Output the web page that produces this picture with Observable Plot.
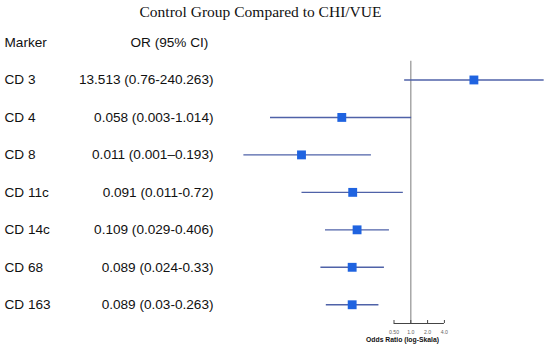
<!DOCTYPE html>
<html>
<head>
<meta charset="utf-8">
<script src="https://cdn.jsdelivr.net/npm/d3@7"></script>
<script src="https://cdn.jsdelivr.net/npm/@observablehq/plot@0.6"></script>
<style>
  html, body { margin: 0; padding: 0; background: #fff; }
  #title { width: 550px; box-sizing: border-box; padding-right: 29px; height: 24px; line-height: 24px;
           text-align: center; font-family: "Liberation Serif", serif; font-size: 15.5px; color: #111; }
  svg { display: block; }
</style>
</head>
<body>
<div id="title">Control Group Compared to CHI/VUE</div>
<div id="chart"></div>
<script>
const markers = ["CD 3", "CD 4", "CD 8", "CD 11c", "CD 14c", "CD 68", "CD 163"];
const oddsRatio = [13.513, 0.058, 0.011, 0.091, 0.109, 0.089, 0.089];
const ciLow = [0.76, 0.003, 0.001, 0.011, 0.029, 0.024, 0.03];
const ciHigh = [240.263, 1.014, 0.193, 0.72, 0.406, 0.33, 0.263];
const orText = ["13.513 (0.76-240.263)", "0.058 (0.003-1.014)", "0.011 (0.001\u20130.193)",
  "0.091 (0.011-0.72)", "0.109 (0.029-0.406)", "0.089 (0.024-0.33)", "0.089 (0.03-0.263)"];
const xTicks = [0.5, 1, 2, 4];
const xTickLabels = ["0.50", "1.0", "2.0", "4.0"];
const headers = ["Marker", "OR (95% CI)"];
const xLabel = "Odds Ratio (log-Skala)";

const rows = markers.map((m, i) => ({marker: m, row: i, or: oddsRatio[i], lo: ciLow[i], hi: ciHigh[i], text: orText[i]}));
const tickRows = xTicks.map((t, i) => ({x: t, label: xTickLabels[i]}));

const W = 550, H = 325, mL = 242.3, mR = 5.3, mT = 18, mB = 26;
const nRows = markers.length;
const font = "Liberation Sans, Arial, sans-serif";
const fs = 13.6;

const chart = Plot.plot({
  width: W, height: H,
  marginLeft: mL, marginRight: mR, marginTop: mT, marginBottom: mB,
  style: {fontFamily: font, background: "#fff", overflow: "visible"},
  x: {type: "log", base: 2, domain: [1 / 1024, 256], axis: null},
  y: {type: "linear", domain: [-1, nRows - 0.5], reverse: true, axis: null},
  marks: [
    // reference line at OR = 1
    Plot.ruleX([1], {x: d => d, y1: -0.5, y2: nRows - 0.5, stroke: "#9a9a9a", strokeWidth: 1.3}),
    // confidence intervals
    Plot.link(rows, {x1: "lo", x2: "hi", y1: "row", y2: "row", stroke: "#4f62a8", strokeWidth: 1.4}),
    // point estimates
    Plot.dot(rows, {x: "or", y: "row", symbol: "square", r: 5, fill: "#1f63e0", stroke: "none"}),
    // x axis line (from first to last tick)
    Plot.ruleY([nRows - 0.5], {y: d => d, x1: xTicks[0], x2: xTicks[xTicks.length - 1], stroke: "#444", strokeWidth: 1}),
    Plot.tickX(tickRows, {x: "x", insetTop: H - mT - mB - 3, stroke: "#444", strokeWidth: 1}),
    Plot.text(tickRows, {x: "x", text: "label", frameAnchor: "bottom", dy: 9, lineAnchor: "middle", fontSize: 5.2, fill: "#666"}),
    Plot.text([xLabel], {text: d => d, frameAnchor: "bottom", dx: 8.5, dy: 16.5, lineAnchor: "middle", fontSize: 6.8, fontWeight: "bold", fill: "#111"}),
    // left columns
    Plot.text(rows, {y: "row", text: "marker", frameAnchor: "left", textAnchor: "start", dx: 4 - mL, fontSize: fs, fill: "#111"}),
    Plot.text(rows, {y: "row", text: "text", frameAnchor: "left", textAnchor: "end", dx: 213 - mL, fontSize: fs, fill: "#111"}),
    Plot.text([headers[0]], {y: -1, text: d => d, frameAnchor: "left", textAnchor: "start", dx: 4 - mL, fontSize: fs, fill: "#111"}),
    Plot.text([headers[1]], {y: -1, text: d => d, frameAnchor: "left", textAnchor: "start", dx: 130 - mL, fontSize: fs, fill: "#111"})
  ]
});
document.getElementById("chart").appendChild(chart);
</script>
</body>
</html>
